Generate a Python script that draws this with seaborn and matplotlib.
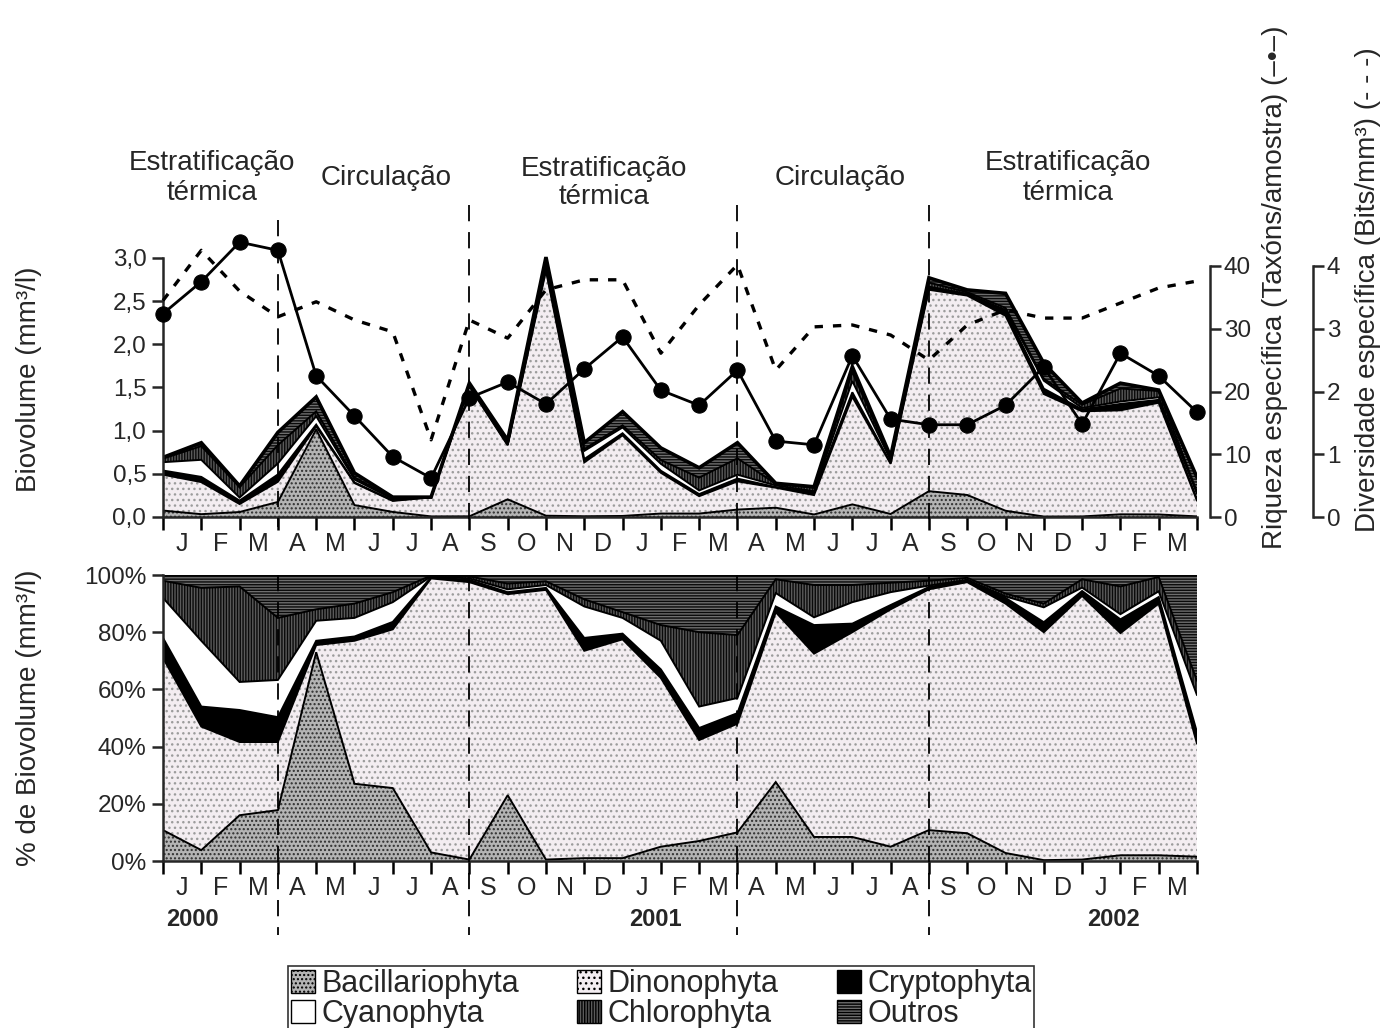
import numpy as np
import matplotlib
matplotlib.use("Agg")
import matplotlib.pyplot as plt
import matplotlib.transforms as mtransforms
from matplotlib.lines import Line2D
from matplotlib.patches import Patch
import seaborn as sns

sns.set_style("ticks")
plt.rcParams["font.family"] = ["Liberation Sans", "DejaVu Sans"]
plt.rcParams["hatch.linewidth"] = 1.0

# ---------------- data ----------------
months = ["J", "F", "M", "A", "M", "J", "J", "A", "S", "O", "N", "D",
          "J", "F", "M", "A", "M", "J", "J", "A", "S", "O", "N", "D",
          "J", "F", "M"]
years = ["2000", "2001", "2002"]
groups = ["Bacillariophyta", "Dinonophyta", "Cryptophyta",
          "Cyanophyta", "Chlorophyta", "Outros"]

# total biovolume (mm3/l) at each sampling
total_biovolume = [0.69, 0.86, 0.36, 0.98, 1.39, 0.51, 0.23, 0.23, 1.55, 0.89,
                   3.01, 0.86, 1.22, 0.80, 0.57, 0.86, 0.39, 0.35, 1.74, 0.70,
                   2.77, 2.63, 2.59, 1.78, 1.32, 1.55, 1.47, 0.46]

# percentage of biovolume per group
pct_bacillariophyta = [10.8, 3.8, 16.0, 17.8, 73.0, 27.0, 25.5, 3.0, 0.5, 23.0,
                       0.5, 1.0, 1.0, 5.0, 7.0, 10.0, 27.6, 8.4, 8.4, 5.0,
                       10.8, 9.7, 2.8, 0.3, 0.5, 2.0, 2.0, 1.5]
pct_dinonophyta = [60.2, 43.2, 25.6, 23.8, 2.5, 50.0, 55.5, 95.8, 97.0, 70.3,
                   94.3, 72.5, 76.5, 59.0, 35.3, 38.0, 59.4, 64.1, 71.6, 83.0,
                   84.2, 87.8, 87.2, 79.7, 92.2, 77.7, 88.0, 39.5]
pct_cryptophyta = [7.0, 7.0, 11.2, 8.7, 1.5, 1.5, 2.6, 0.4, 0.8, 0.7,
                   0.7, 4.5, 2.0, 3.0, 4.2, 3.7, 2.0, 10.0, 3.0, 1.5,
                   0.8, 0.5, 2.0, 3.5, 1.7, 4.8, 2.3, 4.0]
pct_cyanophyta = [14.0, 23.0, 9.8, 13.0, 7.0, 6.5, 6.9, 0.3, 0.5, 1.0,
                  1.0, 11.0, 5.5, 10.0, 7.5, 5.3, 4.7, 2.7, 7.5, 4.5,
                  0.5, 0.3, 0.5, 5.2, 1.2, 1.8, 2.0, 13.0]
pct_chlorophyta = [6.0, 18.5, 33.4, 21.7, 4.0, 5.0, 3.5, 0.3, 0.7, 2.0,
                   1.3, 2.5, 2.0, 5.5, 26.0, 22.0, 4.8, 11.3, 6.0, 3.3,
                   1.7, 0.7, 1.0, 1.3, 2.9, 9.7, 5.0, 5.0]
pct_outros = [2.0, 4.5, 4.0, 15.0, 12.0, 10.0, 6.0, 0.2, 0.5, 3.0,
              2.2, 8.5, 13.0, 17.5, 20.0, 21.0, 1.5, 3.5, 3.5, 2.7,
              2.0, 1.0, 6.5, 10.0, 1.5, 4.0, 0.7, 37.0]

# species richness (taxa/sample) and diversity (bits/mm3)
richness = [32.4, 37.5, 43.8, 42.5, 22.5, 16.1, 9.6, 6.2, 19.0, 21.5,
            18.0, 23.6, 28.7, 20.2, 17.8, 23.4, 12.1, 11.5, 25.7, 15.6,
            14.7, 14.7, 17.8, 23.9, 14.8, 26.1, 22.5, 16.7]
diversity = [3.45, 4.25, 3.6, 3.19, 3.43, 3.14, 2.95, 1.23, 3.14, 2.85,
             3.62, 3.78, 3.78, 2.61, 3.38, 4.02, 2.34, 3.03, 3.06, 2.90,
             2.50, 3.06, 3.30, 3.17, 3.17, 3.41, 3.65, 3.76]

season_breaks = [3, 8, 15, 20]
season_labels = [(212, 178, "Estratificação\ntérmica"), (386, 178, "Circulação"),
                 (604, 183, "Estratificação\ntérmica"), (840, 178, "Circulação"),
                 (1068, 178, "Estratificação\ntérmica")]
year_pos = [(192, 920), (655, 920), (1113, 920)]

# ---------------- styling ----------------
face = ["#b4b4b4", "#f3edf1", "#000000", "#ffffff", "#5a5a5a", "#6e6e6e"]
hatch = ["....", "...", None, None, "||||||", "------"]
hcol = ["#2e2e2e", "#9c9c9c", None, None, "#0a0a0a", "#0a0a0a"]

W, H = 1381, 1028
fig = plt.figure(figsize=(W / 100, H / 100), dpi=100)
fx = lambda p: p / W
fy = lambda p: 1 - p / H

x = np.arange(len(total_biovolume))
pct = np.array([pct_bacillariophyta, pct_dinonophyta, pct_cryptophyta,
                pct_cyanophyta, pct_chlorophyta, pct_outros])
pct = pct / pct.sum(axis=0) * 100
tot = np.array(total_biovolume)
absvals = pct * tot / 100

ax_left, ax_w = fx(163), (1197 - 163) / W
ax1 = fig.add_axes([ax_left, fy(517), ax_w, (517 - 240.7) / H])
ax2 = fig.add_axes([ax_left, fy(861), ax_w, 286 / H])


def draw_stack(ax, layers, top_lw):
    cum = np.vstack([np.zeros(layers.shape[1]), np.cumsum(layers, axis=0)])
    for i in range(layers.shape[0]):
        ax.fill_between(x, cum[i], cum[i + 1], facecolor=face[i],
                        edgecolor="none", linewidth=0, zorder=1)
        if hatch[i]:
            ax.fill_between(x, cum[i], cum[i + 1], facecolor="none",
                            edgecolor=hcol[i], hatch=hatch[i], linewidth=0,
                            zorder=1.5)
    for i in range(1, layers.shape[0] + 1):
        lw = top_lw if i == layers.shape[0] else 1.4
        ax.plot(x, cum[i], color="black", lw=lw, zorder=2,
                solid_joinstyle="miter")


draw_stack(ax1, absvals, 2.6)
draw_stack(ax2, pct, 1.4)

for ax in (ax1, ax2):
    ax.set_xlim(0, 27)
    ax.set_xticks(np.arange(28))
    ax.set_xticklabels([])
    ax.set_xticks(np.arange(27) + 0.5, minor=True)
    ax.set_xticklabels(months, minor=True)
    ax.tick_params(axis="x", which="major", direction="out", length=9,
                   width=1.8, color="black")
    ax.tick_params(axis="x", which="minor", length=0, pad=11, labelsize=18)
    ax.tick_params(axis="y", direction="out", length=8, width=1.8,
                   labelsize=17.5, pad=4)
    for s in ("top", "right"):
        ax.spines[s].set_visible(False)
    for s in ("left", "bottom"):
        ax.spines[s].set_linewidth(1.8)

ax1.set_ylim(0, 3.2)
ax1.spines["left"].set_bounds(0, 3.0)
ax1.set_yticks(np.arange(0, 3.01, 0.5))
ax1.set_yticklabels([f"{v:.1f}".replace(".", ",") for v in np.arange(0, 3.01, 0.5)])
ax1.set_ylabel("Biovolume (mm³/l)", fontsize=20)
ax1.yaxis.set_label_coords((42 - 163) / 1034, 0.5)

ax2.set_ylim(0, 100)
ax2.set_yticks(np.arange(0, 101, 20))
ax2.set_yticklabels([f"{v}%" for v in range(0, 101, 20)])
ax2.set_ylabel("% de Biovolume (mm³/l)", fontsize=20)
ax2.yaxis.set_label_coords((42 - 163) / 1034, 0.5)

# right axes: richness and diversity
axr = ax1.twinx()
axd = ax1.twinx()
for a in (axr, axd):
    for s in ("top", "left", "bottom"):
        a.spines[s].set_visible(False)
    a.spines["right"].set_linewidth(1.8)
    a.tick_params(axis="y", direction="out", length=8, width=1.8,
                  labelsize=17.5, pad=2)
axr.set_ylim(0, 40 * 276.3 / 251)
axr.spines["right"].set_position(("axes", 1.0126))
axr.spines["right"].set_bounds(0, 40)
axr.set_yticks([0, 10, 20, 30, 40])
axd.set_ylim(0, 4 * 276.3 / 251)
axd.spines["right"].set_position(("axes", 1.112))
axd.spines["right"].set_bounds(0, 4)
axd.set_yticks([0, 1, 2, 3, 4])

sns.lineplot(x=x, y=diversity, ax=axd, color="black", lw=2.4,
             linestyle=(0, (2.5, 3.0)), zorder=5, clip_on=False)
sns.lineplot(x=x, y=richness, ax=axr, color="black", lw=2.0, marker="o",
             markersize=11, markeredgecolor="black", markerfacecolor="black",
             zorder=6, clip_on=False)
axr.set_ylabel("")
axd.set_ylabel("")

fig.text(fx(1275), fy(287), "Riqueza específica (Taxóns/amostra) (–•–)",
         rotation=90, ha="center", va="center", fontsize=20)
fig.text(fx(1368), fy(290), "Diversidade específica (Bits/mm³) (- - -)",
         rotation=90, ha="center", va="center", fontsize=20)

# season separators
tr = mtransforms.blended_transform_factory(ax1.transData, fig.transFigure)
for b in season_breaks:
    top = 220 if b == 3 else 205
    fig.add_artist(Line2D([b, b], [fy(top), fy(527)], transform=tr, color="black",
                          lw=1.3, linestyle=(0, (9, 6)), zorder=10))
    fig.add_artist(Line2D([b, b], [fy(575), fy(935)], transform=tr, color="black",
                          lw=1.3, linestyle=(0, (9, 6)), zorder=10))

for px, py, t in season_labels:
    fig.text(fx(px), fy(py), t, ha="center", va="center", fontsize=20,
             linespacing=1.15)

for (px, py), yr in zip(year_pos, years):
    fig.text(fx(px), fy(py), yr, ha="center", va="center", fontsize=17,
             fontweight="bold")

handles = []
for i, g in enumerate(groups):
    handles.append(Patch(facecolor=face[i], edgecolor="black", hatch=hatch[i],
                         linewidth=1.0))
order = [0, 3, 1, 4, 2, 5]
leg = fig.legend([handles[i] for i in order], [groups[i] for i in order],
                 ncol=3, loc="upper center", bbox_to_anchor=(fx(661), fy(951)),
                 frameon=True, fancybox=False, edgecolor="black", fontsize=22,
                 handlelength=0.8, handleheight=0.8, handletextpad=0.2,
                 columnspacing=1.9, labelspacing=0.0, borderpad=0.1)
leg.get_frame().set_linewidth(1.2)

fig.savefig("out.png", dpi=100)
